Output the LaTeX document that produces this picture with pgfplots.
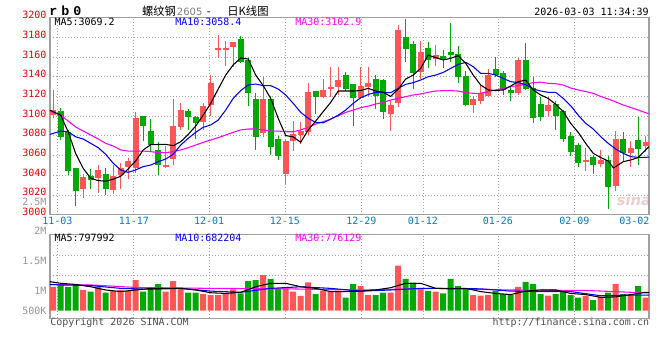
\documentclass[border=0pt]{standalone}
\usepackage{pgfplots}
\pgfplotsset{compat=1.18}
\usepackage{fontspec}
\setmainfont{DejaVu Sans}
\setsansfont{DejaVu Sans}
\setmonofont{DejaVu Sans Mono}
\newfontfamily\cjk{Noto Sans CJK SC}
\newfontfamily\rbfont{Liberation Mono}
\definecolor{cred}{RGB}{255,85,85}
\definecolor{cgreen}{RGB}{0,170,0}
\definecolor{mablue}{RGB}{0,0,255}
\definecolor{mamag}{RGB}{255,0,255}
\definecolor{labred}{RGB}{235,0,0}
\definecolor{labblue}{RGB}{0,122,204}
\definecolor{gridgray}{RGB}{165,165,165}
\definecolor{framegray}{RGB}{160,160,160}
\definecolor{volgray}{RGB}{150,150,150}
\definecolor{txtgray}{RGB}{80,80,80}
\definecolor{wmark}{RGB}{240,205,205}
\newcommand\lab{\ttfamily\fontsize{7.5}{8}\selectfont}
\pgfplotsset{
  sina/.style={
    scale only axis, width=449.25pt,
    xmin=-1.427, xmax=78.44,
    axis line style={draw=framegray, line width=1pt},
    major tick length=0pt, tick style={draw=none},
    grid style={draw=gridgray, line width=0.6pt, dash pattern=on 0.75pt off 1.5pt},
    xtick={-0.45,9.75,19.8,29.9,40.1,48.3,58.3,68.5},
    xmajorgrids=true,
    unbounded coords=jump,
  },
  wick/.style={line width=0.75pt, mark=none},
  body/.style={line width=4.5pt, line cap=butt, mark=none},
  maline/.style={line width=0.8pt, mark=none},
}
\begin{document}
\begin{tikzpicture}
\path[use as bounding box, fill=white] (0,0) rectangle (495pt,270pt);
% watermark
\node[text=wmark, font=\sffamily\bfseries\itshape\fontsize{11}{12}\selectfont, inner sep=0pt] at (475.5pt,120pt) {sina};
% ---------------- main candlestick panel
\begin{axis}[sina, at={(37.5pt,108.98pt)}, anchor=south west, height=147.8pt,
  ymin=3000, ymax=3200,
  ytick={3000,3020,3040,3060,3080,3100,3120,3140,3160,3180,3200},
  yticklabels={3000,3020,3040,3060,3080,3100,3120,3140,3160,3180,3200},
  ymajorgrids=true,
  yticklabel style={font=\lab, text=labred, anchor=east, inner sep=0pt, xshift=-2.5pt, yshift=2pt},
  xticklabels={11-03,11-17,12-01,12-15,12-29,01-12,01-26,02-09},
  xticklabel style={font=\lab, text=labblue, anchor=north, inner sep=0pt, yshift=-1.6pt},
  extra x ticks={76.5}, extra x tick labels={03-02},
  extra x tick style={xmajorgrids=false},
]
% red wicks
\addplot[wick, cred] coordinates {(-1,3098)(-1,3127)(-1,nan) (3,3017)(3,3041)(3,nan) (5,3022)(5,3050)(5,nan) (7,3021)(7,3050)(7,nan) (8,3026)(8,3052)(8,nan) (9,3036)(9,3058)(9,nan) (10,3042)(10,3104)(10,nan) (14,3047)(14,3070)(14,nan) (15,3050)(15,3117)(15,nan) (16,3086)(16,3113)(16,nan) (19,3086)(19,3113)(19,nan) (20,3100)(20,3142)(20,nan) (21,3159)(21,3182)(21,nan) (22,3151)(22,3176)(22,nan) (23,3150)(23,3175)(23,nan) (27,3079)(27,3140)(27,nan) (30,3031)(30,3077)(30,nan) (31,3065)(31,3095)(31,nan) (32,3072)(32,3094)(32,nan) (33,3081)(33,3134)(33,nan) (35,3118)(35,3138)(35,nan) (36,3119)(36,3150)(36,nan) (37,3121)(37,3150)(37,nan) (40,3117)(40,3150)(40,nan) (41,3120)(41,3150)(41,nan) (44,3085)(44,3115)(44,nan) (45,3109)(45,3193)(45,nan) (48,3138)(48,3176)(48,nan) (50,3151)(50,3172)(50,nan) (55,3103)(55,3120)(55,nan) (56,3112)(56,3132)(56,nan) (57,3119)(57,3148)(57,nan) (61,3121)(61,3159)(61,nan) (65,3099)(65,3119)(65,nan) (70,3044)(70,3068)(70,nan) (72,3048)(72,3066)(72,nan) (74,3024)(74,3085)(74,nan) (76,3048)(76,3075)(76,nan) (78,3064)(78,3080)};
% red bodies
\addplot[body, cred] coordinates {(-1,3101)(-1,3106)(-1,nan) (3,3026)(3,3038)(3,nan) (5,3037)(5,3045)(5,nan) (7,3025)(7,3039)(7,nan) (8,3040)(8,3047)(8,nan) (9,3048)(9,3054)(9,nan) (10,3047)(10,3098)(10,nan) (14,3048)(14,3050)(14,nan) (15,3057)(15,3090)(15,nan) (16,3089)(16,3106)(16,nan) (19,3094)(19,3110)(19,nan) (20,3111)(20,3134)(20,nan) (21,3167)(21,3169)(21,nan) (22,3167)(22,3169)(22,nan) (23,3170)(23,3175)(23,nan) (27,3083)(27,3117)(27,nan) (30,3041)(30,3075)(30,nan) (31,3075)(31,3082)(31,nan) (32,3081)(32,3085)(32,nan) (33,3084)(33,3125)(33,nan) (35,3119)(35,3127)(35,nan) (36,3128)(36,3129.5)(36,nan) (37,3130)(37,3137)(37,nan) (40,3118)(40,3131)(40,nan) (41,3130)(41,3134)(41,nan) (44,3102)(44,3111)(44,nan) (45,3113)(45,3187)(45,nan) (48,3145)(48,3165)(48,nan) (50,3158)(50,3162)(50,nan) (55,3111)(55,3117)(55,nan) (56,3115)(56,3124)(56,nan) (57,3120)(57,3142)(57,nan) (61,3123)(61,3157)(61,nan) (65,3105)(65,3111)(65,nan) (70,3053)(70,3055)(70,nan) (72,3051)(72,3056)(72,nan) (74,3029)(74,3077)(74,nan) (76,3063)(76,3068)(76,nan) (78,3070)(78,3074)};
% green wicks
\addplot[wick, cgreen] coordinates {(0,3076)(0,3108)(0,nan) (1,3040)(1,3086)(1,nan) (2,3009)(2,3047)(2,nan) (4,3026)(4,3046)(4,nan) (6,3020)(6,3047)(6,nan) (11,3075)(11,3100)(11,nan) (12,3065)(12,3097)(12,nan) (13,3040)(13,3074)(13,nan) (17,3086)(17,3107)(17,nan) (18,3077)(18,3100)(18,nan) (24,3154)(24,3181)(24,nan) (25,3110)(25,3159)(25,nan) (26,3066)(26,3124)(26,nan) (28,3061)(28,3120)(28,nan) (29,3056)(29,3080)(29,nan) (34,3102)(34,3126)(34,nan) (38,3126)(38,3145)(38,nan) (39,3090)(39,3133)(39,nan) (42,3107)(42,3142)(42,nan) (43,3097)(43,3138)(43,nan) (46,3155)(46,3199)(46,nan) (47,3128)(47,3176)(47,nan) (49,3149)(49,3175)(49,nan) (51,3149)(51,3167)(51,nan) (52,3155)(52,3195)(52,nan) (53,3134)(53,3171)(53,nan) (54,3110)(54,3146)(54,nan) (58,3140)(58,3160)(58,nan) (59,3121)(59,3146)(59,nan) (60,3115)(60,3130)(60,nan) (62,3127)(62,3174)(62,nan) (63,3093)(63,3140)(63,nan) (64,3095)(64,3119)(64,nan) (66,3086)(66,3115)(66,nan) (67,3074)(67,3106)(67,nan) (68,3060)(68,3084)(68,nan) (69,3048)(69,3073)(69,nan) (71,3041)(71,3061)(71,nan) (73,3006)(73,3060)(73,nan) (75,3054)(75,3084)(75,nan) (77,3050)(77,3099)};
% green bodies
\addplot[body, cgreen] coordinates {(0,3105)(0,3079)(0,nan) (1,3084)(1,3044)(1,nan) (2,3047)(2,3024)(2,nan) (4,3039)(4,3035)(4,nan) (6,3041)(6,3026)(6,nan) (11,3100)(11,3090)(11,nan) (12,3085)(12,3071)(12,nan) (13,3066)(13,3050)(13,nan) (17,3105)(17,3099)(17,nan) (18,3099)(18,3093)(18,nan) (24,3178)(24,3155)(24,nan) (25,3157)(25,3123)(25,nan) (26,3117)(26,3079)(26,nan) (28,3117)(28,3069)(28,nan) (29,3077)(29,3060)(29,nan) (34,3126)(34,3119)(34,nan) (38,3142)(38,3128)(38,nan) (39,3133)(39,3118)(39,nan) (42,3138)(42,3120)(42,nan) (43,3137)(43,3104)(43,nan) (46,3180)(46,3168)(46,nan) (47,3173)(47,3144)(47,nan) (49,3169)(49,3157)(49,nan) (51,3161)(51,3158)(51,nan) (52,3165)(52,3162)(52,nan) (53,3163)(53,3140)(53,nan) (54,3141)(54,3111)(54,nan) (58,3148)(58,3142)(58,nan) (59,3144)(59,3127)(59,nan) (60,3127)(60,3123)(60,nan) (62,3157)(62,3128)(62,nan) (63,3129)(63,3098)(63,nan) (64,3112)(64,3099)(64,nan) (66,3112)(66,3100)(66,nan) (67,3105)(67,3077)(67,nan) (68,3080)(68,3064)(68,nan) (69,3071)(69,3052)(69,nan) (71,3059)(71,3050)(71,nan) (73,3056)(73,3028)(73,nan) (75,3077)(75,3063)(75,nan) (77,3076)(77,3067)};
% MA30
\addplot[maline, mamag] coordinates {(-1.43,3105)(0,3101)(1,3095)(2,3089)(3,3084.9)(4,3080.9)(5,3076.8)(6,3072.4)(7,3069.7)(8,3065.7)(9,3064.6)(10,3064.6)(11,3064.6)(12,3064)(13,3063)(14,3063)(15,3064)(16,3065.7)(17,3068)(18,3070.7)(19,3073.4)(20,3075.8)(21,3078.2)(22,3080.9)(23,3083.6)(24,3086)(25,3087)(26,3087)(27,3086)(28,3084.9)(29,3084.9)(30,3084.2)(31,3084.2)(32,3086)(33,3088.7)(34,3092)(35,3094.5)(36,3097)(37,3100.4)(38,3103.8)(39,3106.2)(40,3108.6)(41,3110.2)(42,3112.3)(43,3114)(44,3116.4)(45,3118)(46,3119.8)(47,3121.5)(48,3122.5)(49,3124.2)(50,3125.5)(51,3125.9)(52,3125.9)(53,3125.5)(54,3123.8)(55,3123.2)(56,3123.2)(57,3124.9)(58,3126.6)(59,3128.2)(60,3130)(61,3131)(62,3132.5)(63,3134)(64,3134.5)(65,3133.3)(66,3133)(67,3131.6)(68,3128.5)(69,3126.6)(70,3125)(71,3123.2)(72,3120)(73,3117.4)(74,3114.5)(75,3111.3)(76,3108.8)(77,3106.2)(78,3103.5)(78.44,3102.5)};
% MA10
\addplot[maline, mablue] coordinates {(-1.43,3081.5)(0,3084.9)(1,3084.2)(2,3079)(3,3076.8)(4,3072.4)(5,3068)(6,3061.3)(7,3052.2)(8,3045.4)(9,3043)(10,3045.4)(11,3048.8)(12,3050.4)(13,3053.8)(14,3056.5)(15,3061.3)(16,3070.7)(17,3077.5)(18,3083.6)(19,3088.7)(20,3091)(21,3096)(22,3106.2)(23,3118)(24,3126)(25,3131.6)(26,3132.6)(27,3131)(28,3131)(29,3127.5)(30,3121.5)(31,3113)(32,3103.9)(33,3097.8)(34,3093.7)(35,3093.3)(36,3097)(37,3101)(38,3106.2)(39,3113)(40,3118.7)(41,3122)(42,3124.2)(43,3123.8)(44,3123.8)(45,3128.2)(46,3132.3)(47,3134)(48,3136.7)(49,3140)(50,3141.7)(51,3144.4)(52,3148.5)(53,3152.5)(54,3154.6)(55,3150.2)(56,3143.4)(57,3143.4)(58,3141.7)(59,3138.3)(60,3135)(61,3134)(62,3132)(63,3127.5)(64,3125.5)(65,3124.2)(66,3124.2)(67,3118)(68,3110.6)(69,3101)(70,3092.7)(71,3087)(72,3079.2)(73,3072.4)(74,3066.7)(75,3062.3)(76,3058.9)(77,3058.2)(78,3058.2)(78.44,3058.5)};
% MA5
\addplot[maline, black] coordinates {(-1.43,3106)(0,3101)(1,3084)(2,3062)(3,3047)(4,3037)(5,3034.6)(6,3034)(7,3036)(8,3039)(9,3046.5)(10,3054.5)(11,3065.7)(12,3071)(13,3071.3)(14,3071.4)(15,3070)(16,3074)(17,3081.5)(18,3090)(19,3101)(20,3113)(21,3127.5)(22,3141.7)(23,3152)(24,3159)(25,3158)(26,3141.7)(27,3131)(28,3118)(29,3097.8)(30,3080.3)(31,3079)(32,3073.5)(33,3086)(34,3095)(35,3104.6)(36,3114)(37,3125.5)(38,3125.5)(39,3125.5)(40,3126)(41,3128.2)(42,3125.5)(43,3124.2)(44,3120)(45,3127.5)(46,3137.7)(47,3141.7)(48,3148.5)(49,3162)(50,3159.4)(51,3157)(52,3158.7)(53,3161.4)(54,3153.6)(55,3141.7)(56,3131.6)(57,3126.6)(58,3126)(59,3126.6)(60,3130.6)(61,3135)(62,3136.6)(63,3126.6)(64,3121.5)(65,3118)(66,3112)(67,3104.6)(68,3092.7)(69,3083.6)(70,3072.4)(71,3062.3)(72,3058)(73,3054.5)(73.7,3047.5)(74,3048.8)(75,3053.8)(76,3055.5)(77,3058)(78,3065.7)(78.44,3069)};
\end{axis}
% ---------------- volume panel
\begin{axis}[sina, at={(37.5pt,31.28pt)}, anchor=south west, height=63pt,
  ymin=-0.33, ymax=3.32,
  ytick={0,0.87,2.17}, yticklabels={500K,1M,1.5M},
  ymajorgrids=false,
  yticklabel style={font=\lab, text=volgray, anchor=east, inner sep=0pt, xshift=-2.5pt},
  extra y ticks={1.55,2.42}, extra y tick labels={},
  extra y tick style={ymajorgrids=true},
  xticklabels={},
]
\addplot[ybar, bar width=4.5pt, bar shift=0pt, fill=cred, draw=none] coordinates {(-1,1.04)(3,0.90)(5,1.04)(7,0.86)(8,0.90)(9,0.86)(10,1.33)(14,0.83)(15,1.29)(16,0.97)(19,0.72)(20,0.68)(21,0.68)(22,0.72)(23,0.93)(27,1.55)(30,0.97)(31,0.83)(32,0.64)(33,1.23)(35,0.87)(36,0.83)(37,0.87)(40,1.07)(41,0.68)(44,0.78)(45,1.96)(48,0.97)(50,0.83)(55,0.68)(56,0.65)(57,0.68)(61,1.04)(65,0.65)(70,0.64)(72,0.61)(74,1.16)(76,0.68)(78,0.57)};
\addplot[ybar, bar width=4.5pt, bar shift=0pt, fill=cgreen, draw=none] coordinates {(0,1.12)(1,1.04)(2,1.09)(4,0.83)(6,0.78)(11,0.83)(12,0.90)(13,1.16)(17,0.78)(18,0.78)(24,0.75)(25,1.29)(26,1.33)(28,1.38)(29,0.97)(34,0.72)(38,0.57)(39,1.16)(42,0.68)(43,0.78)(46,1.38)(47,1.22)(49,0.86)(51,0.75)(52,1.38)(53,1.07)(54,0.97)(58,0.86)(59,0.72)(60,0.68)(62,1.25)(63,1.16)(64,0.72)(66,0.72)(67,0.83)(68,0.68)(69,0.57)(71,0.46)(73,0.78)(75,0.72)(77,1.07)};
\addplot[maline, mamag] coordinates {(-1.43,1.14)(4,1.12)(10,1.01)(20,0.97)(30,0.95)(40,0.90)(50,0.97)(60,0.90)(70,0.88)(76,0.80)(78.44,0.77)};
\addplot[maline, mablue] coordinates {(-1.43,1.14)(0,1.12)(4,1.09)(8,0.97)(12,0.93)(16,0.97)(20,0.85)(24,0.80)(28,0.97)(32,1.04)(36,0.97)(40,0.85)(44,0.90)(48,0.97)(52,0.97)(56,0.95)(60,0.85)(64,0.83)(68,0.83)(72,0.65)(76,0.68)(78.44,0.68)};
\addplot[maline, black] coordinates {(-1.43,1.26)(0,1.19)(2,1.14)(4,1.04)(6,0.90)(8,0.83)(10,0.90)(12,0.97)(14,0.97)(16,0.97)(18,0.90)(20,0.78)(22,0.75)(24,0.80)(26,1.04)(28,1.19)(30,1.19)(32,1.04)(34,0.97)(36,0.83)(38,0.83)(40,0.85)(42,0.90)(44,1.00)(46,1.19)(48,1.19)(50,0.97)(52,0.95)(54,0.97)(56,0.83)(58,0.75)(60,0.70)(62,0.85)(64,0.90)(66,0.90)(68,0.75)(70,0.70)(72,0.58)(74,0.60)(76,0.70)(78,0.80)(78.44,0.80)};
\end{axis}
% ---------------- texts
\node[anchor=base west, inner sep=0pt, font=\rbfont\bfseries\fontsize{10}{11}\selectfont] at (36.75pt,258pt) {r\hspace{3pt}b\hspace{3pt}0};
\node[anchor=base west, inner sep=0pt, font=\cjk\fontsize{8.5}{9}\selectfont] at (106.3pt,258.4pt) {螺纹钢};
\node[anchor=base west, inner sep=0pt, font=\sffamily\fontsize{7.5}{8}\selectfont, text=gray] at (132.5pt,258.4pt) {2605};
\node[anchor=base west, inner sep=0pt, font=\cjk\fontsize{8.5}{9}\selectfont] at (155pt,258.4pt) {-};
\node[anchor=base west, inner sep=0pt, font=\cjk\fontsize{8.5}{9}\selectfont] at (170.25pt,258.4pt) {日K线图};
\node[anchor=base east, inner sep=0pt, font=\lab] at (486.75pt,258pt) {2026-03-03 11:34:39};
\node[anchor=base west, inner sep=0pt, font=\lab] at (40.7pt,250.7pt) {MA5:3069.2};
\node[anchor=base west, inner sep=0pt, font=\lab, text=mablue] at (131.25pt,250.7pt) {MA10:3058.4};
\node[anchor=base west, inner sep=0pt, font=\lab, text=mamag] at (221.25pt,250.7pt) {MA30:3102.9};
\node[anchor=base west, inner sep=0pt, font=\lab] at (40.7pt,88.7pt) {MA5:797992};
\node[anchor=base west, inner sep=0pt, font=\lab, text=mablue] at (131.25pt,88.7pt) {MA10:682204};
\node[anchor=base west, inner sep=0pt, font=\lab, text=mamag] at (221.25pt,88.7pt) {MA30:776129};
\node[anchor=east, inner sep=0pt, font=\lab, text=volgray] at (35pt,96.98pt) {2M};
\node[anchor=east, inner sep=0pt, font=\lab, text=volgray] at (35pt,118.9pt) {2.5M};
\node[anchor=base west, inner sep=0pt, font=\lab, text=txtgray] at (37.5pt,25.5pt) {Copyright 2026 SINA.COM};
\node[anchor=base east, inner sep=0pt, font=\lab, text=txtgray] at (487pt,25.5pt) {http://finance.sina.com.cn};
\end{tikzpicture}
\end{document}
